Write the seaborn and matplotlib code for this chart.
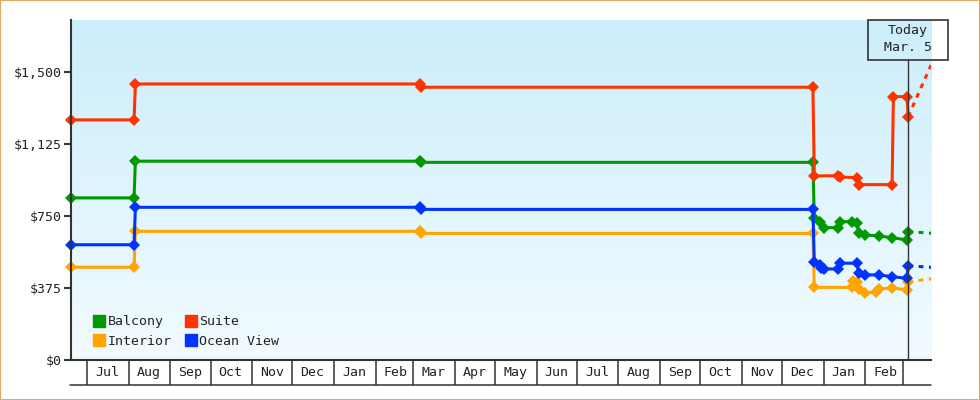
import numpy as np
import pandas as pd
import matplotlib
matplotlib.use("Agg")
import matplotlib.pyplot as plt
import matplotlib.dates as mdates
import seaborn as sns
from matplotlib.colors import LinearSegmentedColormap
from matplotlib.lines import Line2D
from matplotlib.patches import Rectangle
from matplotlib.ticker import FuncFormatter
from matplotlib.transforms import ScaledTranslation


# price history per cabin type
balcony_dates = ["2021-06-19", "2021-08-05", "2021-08-06", "2022-03-06", "2022-03-07",
                 "2022-12-24", "2022-12-25", "2022-12-29", "2023-01-01", "2023-01-12",
                 "2023-01-13", "2023-01-22", "2023-01-26", "2023-01-27", "2023-02-01",
                 "2023-02-11", "2023-02-21", "2023-03-04", "2023-03-05"]
balcony = [844, 844, 1035, 1035, 1029, 1029, 738, 720, 689, 689,
           720, 720, 712, 660, 651, 646, 637, 625, 668]

interior_dates = ["2021-06-19", "2021-08-05", "2021-08-06", "2022-03-06", "2022-03-07",
                  "2022-12-24", "2022-12-25", "2023-01-22", "2023-01-23", "2023-01-26",
                  "2023-01-27", "2023-02-01", "2023-02-09", "2023-02-11", "2023-02-21",
                  "2023-03-04", "2023-03-05"]
interior = [483, 483, 670, 670, 659, 659, 378, 378, 412, 405,
            372, 350, 355, 370, 375, 365, 408]

suite_dates = ["2021-06-19", "2021-08-05", "2021-08-06", "2022-03-06", "2022-03-07",
               "2022-12-24", "2022-12-25", "2023-01-12", "2023-01-13", "2023-01-26",
               "2023-01-27", "2023-02-21", "2023-02-22", "2023-03-04", "2023-03-05"]
suite = [1250, 1250, 1437, 1437, 1420, 1420, 958, 960, 952, 950,
         913, 913, 1371, 1371, 1267]

ocean_dates = ["2021-06-19", "2021-08-05", "2021-08-06", "2022-03-06", "2022-03-07",
               "2022-12-24", "2022-12-25", "2022-12-29", "2022-12-30", "2023-01-01",
               "2023-01-12", "2023-01-13", "2023-01-26", "2023-01-27", "2023-02-01",
               "2023-02-11", "2023-02-21", "2023-03-04", "2023-03-05"]
ocean = [600, 600, 795, 795, 784, 784, 512, 495, 480, 474,
         474, 504, 504, 452, 443, 443, 434, 425, 490]

# projection after today
today = "2023-03-05"
proj_end = "2023-03-22"
proj_balcony = [668, 660]
proj_interior = [408, 422]
proj_suite = [1267, 1535]
proj_ocean = [490, 483]

cabins = ["Balcony", "Interior", "Suite", "Ocean View"]
colors = {"Balcony": "#009900", "Interior": "#ffa500",
          "Suite": "#ff3300", "Ocean View": "#0033ff"}

x_start = "2021-06-19"
y_ticks = [0, 375, 750, 1125, 1500]


# build long dataframes
series = [("Balcony", balcony_dates, balcony), ("Interior", interior_dates, interior),
          ("Suite", suite_dates, suite), ("Ocean View", ocean_dates, ocean)]
df = pd.concat([pd.DataFrame({"date": pd.to_datetime(d), "price": v, "cabin": n})
                for n, d, v in series], ignore_index=True)

proj = [("Balcony", proj_balcony), ("Interior", proj_interior),
        ("Suite", proj_suite), ("Ocean View", proj_ocean)]
df_proj = pd.concat([pd.DataFrame({"date": pd.to_datetime([today, proj_end]), "price": v, "cabin": n})
                     for n, v in proj], ignore_index=True)


# style
sns.set_theme(style="white")
plt.rcParams["font.family"] = ["DejaVu Sans Mono"]
ink = "#333333"

fig = plt.figure(figsize=(9.8, 4.0), dpi=100)
pos = [71 / 980, 40 / 400, 860 / 980, 340 / 400]

# gradient background
bg = fig.add_axes(pos, zorder=0)
cmap = LinearSegmentedColormap.from_list("bg", ["#cceefb", "#f2fbff"])
bg.imshow(np.linspace(0, 1, 256).reshape(-1, 1), aspect="auto", cmap=cmap,
          extent=[0, 1, 0, 1], origin="upper")
bg.axis("off")

ax = fig.add_axes(pos, zorder=1)
ax.set_facecolor("none")

sns.lineplot(data=df_proj, x="date", y="price", hue="cabin", hue_order=cabins,
             palette=colors, estimator=None, linewidth=2.2,
             linestyle=(0, (1.6, 1.8)), legend=False, ax=ax)
sns.lineplot(data=df, x="date", y="price", hue="cabin", hue_order=cabins,
             palette=colors, estimator=None, linewidth=2.2, marker="D",
             markersize=6.2, markeredgewidth=0, legend=False, ax=ax, clip_on=False)

# today marker
today_num = mdates.date2num(pd.Timestamp(today))
ax.axvline(pd.Timestamp(today), ymin=0, ymax=300 / 340, color=ink, lw=1)
anchor = ScaledTranslation(today_num, 1.0, ax.get_xaxis_transform())
fig.add_artist(Rectangle((-0.4, -0.4), 0.8, 0.4, transform=fig.dpi_scale_trans + anchor,
                         fill=False, edgecolor=ink, lw=1.2, clip_on=False))
ax.annotate("Today\nMar. 5", xy=(today_num, 1), xycoords=ax.get_xaxis_transform(),
            xytext=(0, -14), textcoords="offset points", ha="center", va="center",
            linespacing=1.4, fontsize=9.5, color="#222222", annotation_clip=False)

# axes
ax.set_xlim(pd.Timestamp(x_start), pd.Timestamp(proj_end))
ax.set_ylim(0, 1770)
ax.set_xlabel("")
ax.set_ylabel("")

month_starts = pd.date_range("2021-07-01", "2023-03-01", freq="MS")
month_mids = pd.date_range("2021-07-01", "2023-02-01", freq="MS") + pd.Timedelta(days=15)
ax.set_xticks(month_starts)
ax.set_xticklabels([])
ax.set_xticks(month_mids, minor=True)
ax.set_xticklabels([d.strftime("%b") for d in month_mids], minor=True)
ax.tick_params(axis="x", which="major", length=18, width=1.1, color=ink,
               direction="out", bottom=True)
ax.tick_params(axis="x", which="minor", length=0, pad=4, labelsize=9.5,
               labelcolor="#222222", bottom=True)

ax.set_yticks(y_ticks)
ax.yaxis.set_major_formatter(FuncFormatter(lambda v, p: "${:,.0f}".format(v)))
ax.tick_params(axis="y", length=5, width=1.5, color=ink, pad=2, labelsize=9.5,
               labelcolor="#222222", left=True)

for side in ["top", "right"]:
    ax.spines[side].set_visible(False)
for side in ["left", "bottom"]:
    ax.spines[side].set_color(ink)
    ax.spines[side].set_linewidth(1.5)

# bottom line of the month boxes
fig.add_artist(Line2D([70 / 980, 931 / 980], [15 / 400, 15 / 400], color=ink, lw=1.1))

# legend
handles = [Line2D([], [], marker="s", ls="", color=colors[c], markersize=8) for c in cabins]
ax.legend(handles, cabins, ncol=2, loc="lower left", bbox_to_anchor=(0.027, 0.036),
          frameon=False, handlelength=0.8, handletextpad=0.25, columnspacing=1.0,
          labelspacing=0.5, borderpad=0, borderaxespad=0, fontsize=9.5,
          labelcolor="#222222")

# figure border
fig.add_artist(Rectangle((0, 0), 1, 1, transform=fig.transFigure, fill=False,
                         edgecolor="#e8a862", lw=1.5))

fig.savefig("out.png", dpi=100)
